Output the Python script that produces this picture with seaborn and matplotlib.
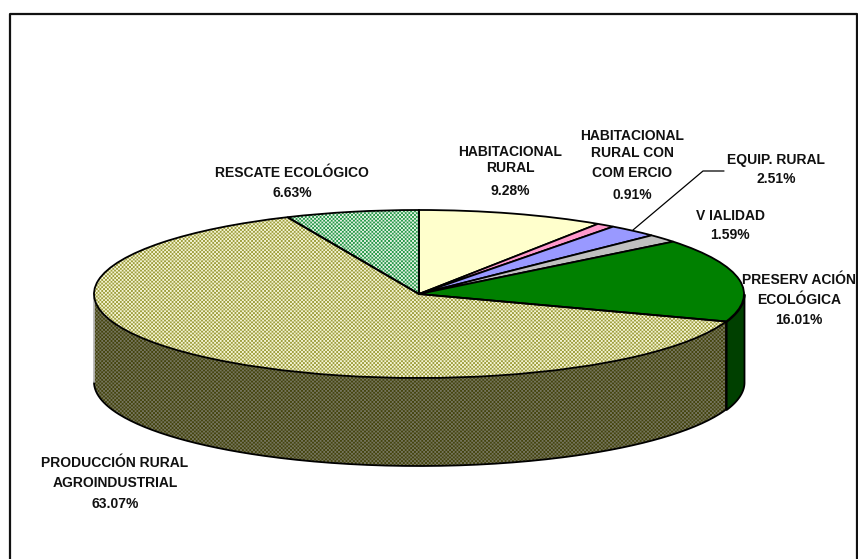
import numpy as np
import matplotlib
matplotlib.use('Agg')
import matplotlib.pyplot as plt
import seaborn as sns

sns.set_theme(style="white")
plt.rcParams['font.family'] = ['Liberation Sans', 'DejaVu Sans']

# Datos del grafico, en sentido horario desde las 12
categorias = ['HABITACIONAL\nRURAL', 'HABITACIONAL\nRURAL CON\nCOM ERCIO', 'EQUIP. RURAL', 'V IALIDAD',
              'PRESERV ACIÓN\nECOLÓGICA', 'PRODUCCIÓN RURAL\nAGROINDUSTRIAL', 'RESCATE ECOLÓGICO']
porcentajes = [9.28, 0.91, 2.51, 1.59, 16.01, 63.07, 6.63]
colores = ['#FFFFCC', '#FF99CC', '#9999FF', '#C0C0C0', '#008000', '#CCCC88', '#66B27F']
colores_lado = ['#80806A', '#80506A', '#50508A', '#707070', '#004000', '#555522', '#336640']

# Posicion de las etiquetas en pixeles: centro x, y de cada renglon, y del porcentaje
x_etiq = [510, 632, 776, 730, 799, 115, 292]
y_lineas = [[152, 168], [136, 153, 173], [160], [216], [280, 300], [463, 483], [173]]
y_pct = [191, 195, 179, 235, 320, 504, 193]

W, H = 858, 559
CX, CY, RX, RY, PROF = 419, 294, 325, 84, 88
prof = PROF / RY


def a_datos(px, py):
    return (px - CX) / RX, (CY - py) / RY


def textura(color_a, color_b, periodo=3.7):
    # Tramado de dos colores con bandas, como el relleno de Excel reescalado
    yy, xx = np.indices((H, W))
    cuadros = np.cos(2 * np.pi * xx / periodo) * np.cos(2 * np.pi * yy / periodo)
    mezcla = np.clip(0.5 + 1.1 * cuadros, 0, 1)[..., None]
    a = np.array(matplotlib.colors.to_rgb(color_a))
    b = np.array(matplotlib.colors.to_rgb(color_b))
    return a * mezcla + b * (1 - mezcla)


fig = plt.figure(figsize=(W / 100, H / 100), dpi=100)
ax = fig.add_axes([0, 0, 1, 1])
xlim = (-CX / RX, (W - CX) / RX)
ylim = ((CY - H) / RY, CY / RY)
extent = (xlim[0], xlim[1], ylim[0], ylim[1])

# Cara superior
wedges, _ = ax.pie(porcentajes, colors=colores, startangle=90, counterclock=False, radius=1,
                   wedgeprops={'edgecolor': 'black', 'linewidth': 1.3, 'zorder': 4})

# Lado del cilindro: solo la parte frontal
limites = np.cumsum([0] + porcentajes) / 100 * 2 * np.pi
for i in range(len(porcentajes)):
    ini, fin = max(limites[i], np.pi / 2), min(limites[i + 1], 3 * np.pi / 2)
    if fin <= ini:
        continue
    t = np.linspace(ini, fin, 200)
    if categorias[i].startswith('PRODUCCIÓN'):
        lado = ax.fill_between(np.sin(t), np.cos(t), np.cos(t) - prof, facecolor='none',
                               edgecolor='none', zorder=3)
        im = ax.imshow(textura('#45450F', '#74745C'), extent=extent, aspect='auto', origin='upper',
                       interpolation='nearest', zorder=2)
        im.set_clip_path(lado.get_paths()[0], lado.get_transform())
        ax.plot(np.sin(t), np.cos(t) - prof, color='black', linewidth=1.3, zorder=3)
        ax.plot([np.sin(t[0])] * 2, [np.cos(t[0]), np.cos(t[0]) - prof], color='black', linewidth=1.3, zorder=3)
        ax.plot([np.sin(t[-1])] * 2, [np.cos(t[-1]), np.cos(t[-1]) - prof], color='#B8B8B8', linewidth=1.3, zorder=3)
    else:
        ax.fill_between(np.sin(t), np.cos(t), np.cos(t) - prof, facecolor=colores_lado[i],
                        edgecolor='black', linewidth=1.3, zorder=2)

# Tramado de produccion y rescate
tramas = {5: ('#A0A040', '#F2F2D0'), 6: ('#2A9A4C', '#E0F0E0')}
for i, (c1, c2) in tramas.items():
    wedges[i].set_facecolor('none')
    wedges[i].set_zorder(5)
    im = ax.imshow(textura(c1, c2), extent=extent, aspect='auto', origin='upper',
                   interpolation='nearest', zorder=3.5)
    im.set_clip_path(wedges[i])

ax.set_aspect('auto')
ax.set_xlim(xlim)
ax.set_ylim(ylim)
ax.set_axis_on()
ax.set_xticks([])
ax.set_yticks([])

# Etiquetas
for nombre, pct, x, ys, yp in zip(categorias, porcentajes, x_etiq, y_lineas, y_pct):
    for renglon, y in zip(nombre.split('\n'), ys):
        dx, dy = a_datos(x, y)
        ax.text(dx, dy, renglon, ha='center', va='center', fontsize=10, fontweight='bold',
                color='#111111', zorder=6)
    dx, dy = a_datos(x, yp)
    ax.text(dx, dy, f'{pct:.2f}%', ha='center', va='center', fontsize=10, fontweight='bold',
            color='#111111', zorder=6)

# Linea guia de EQUIP. RURAL
gx, gy = a_datos(np.array([633, 703, 724]), np.array([230, 171, 171]))
ax.plot(gx, gy, color='black', linewidth=0.9, zorder=6)

# Marco: arriba, izquierda y derecha
mx, my = a_datos(np.array([9.5, 9.5, 856.5, 856.5]), np.array([559, 13.5, 13.5, 559]))
ax.plot(mx, my, color='#111111', linewidth=1.6, zorder=6)
for s in ax.spines.values():
    s.set_visible(False)

fig.savefig('out.png', dpi=100, facecolor='white')
